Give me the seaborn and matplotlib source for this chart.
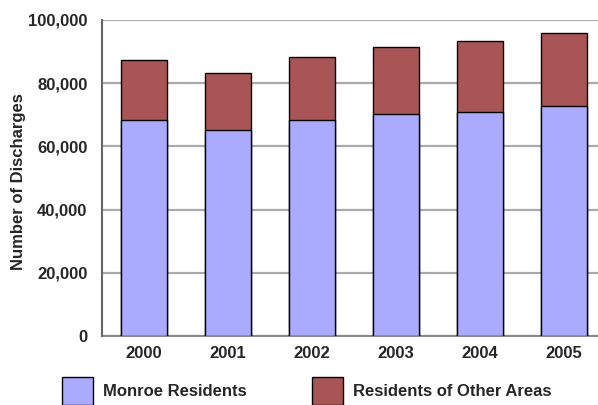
import matplotlib
matplotlib.use("Agg")
import matplotlib.pyplot as plt
from matplotlib.patches import Patch
from matplotlib.ticker import MultipleLocator, FuncFormatter
import seaborn as sns
import pandas as pd

# Hospital discharges by year and patient residence
years = ["2000", "2001", "2002", "2003", "2004", "2005"]
monroe = [68200, 65300, 68300, 70400, 70800, 72800]
other_areas = [19300, 18000, 20100, 21100, 22500, 23000]
series_labels = ["Monroe Residents", "Residents of Other Areas"]

monroe_color = "#AAAAFF"
other_color = "#AA5555"

sns.set_style("white")
plt.rcParams["font.family"] = ["Liberation Sans", "DejaVu Sans"]
plt.rcParams["font.weight"] = "bold"

df = pd.DataFrame({
    "year": years,
    "monroe": monroe,
    "total": [m + o for m, o in zip(monroe, other_areas)],
})

fig = plt.figure(figsize=(5.98, 4.05), dpi=100)
ax = fig.add_axes([101.7 / 598, 69 / 405, 504 / 598, 316 / 405])

# Stacked bars: full height in the "other" colour, Monroe share drawn over it
sns.barplot(data=df, x="year", y="total", color=other_color, saturation=1,
            width=0.55, edgecolor="black", linewidth=1.0, ax=ax, zorder=3)
sns.barplot(data=df, x="year", y="monroe", color=monroe_color, saturation=1,
            width=0.55, edgecolor="black", linewidth=1.0, ax=ax, zorder=4)

ax.set_xlim(-0.5, 5.5)
ax.set_ylim(0, 100000)

ax.yaxis.set_major_locator(MultipleLocator(20000))
ax.yaxis.set_minor_locator(MultipleLocator(10000))
ax.yaxis.set_major_formatter(FuncFormatter(lambda v, p: f"{int(v):,}"))
ax.grid(axis="y", which="major", color="#AAAAAA", linewidth=1.6, zorder=1)
ax.grid(axis="x", visible=False)

# Category-boundary ticks on the x axis, labels centred on each bar
ax.set_xticks([i - 0.5 for i in range(len(years) + 1)], minor=False)
ax.set_xticklabels([""] * (len(years) + 1))
ax.set_xticks(range(len(years)), minor=True)
ax.set_xticklabels(years, minor=True)
ax.tick_params(axis="x", which="major", direction="inout", length=10,
               width=1, color="#888888")
ax.tick_params(axis="x", which="minor", length=0, pad=7.0, labelsize=12)
ax.tick_params(axis="y", which="both", direction="inout", length=10,
               width=1, color="#888888", labelsize=12, pad=5.3)

for lbl in ax.get_xticklabels(minor=True) + ax.get_yticklabels():
    lbl.set_fontweight("bold")

for side in ["top", "right"]:
    ax.spines[side].set_visible(False)
ax.spines["left"].set_color("#666666")
ax.spines["left"].set_linewidth(1.5)
ax.spines["bottom"].set_color("#888888")
ax.spines["bottom"].set_linewidth(1.5)
ax.spines["left"].set_zorder(5)

ax.set_xlabel("")
ax.set_ylabel("Number of Discharges", fontsize=12, fontweight="bold")
ax.yaxis.set_label_coords(-0.15, 0.49)

handles = [Patch(facecolor=monroe_color, edgecolor="black", linewidth=1.0),
           Patch(facecolor=other_color, edgecolor="black", linewidth=1.0)]
fig.legend(handles, series_labels, loc="center left",
           bbox_to_anchor=(62 / 598, 14 / 405), ncol=2, frameon=False,
           borderpad=0, borderaxespad=0, handlelength=1.86,
           handleheight=2.2, handletextpad=0.6, columnspacing=3.9,
           prop={"size": 12, "weight": "bold"})

fig.savefig("out.png", dpi=100)
